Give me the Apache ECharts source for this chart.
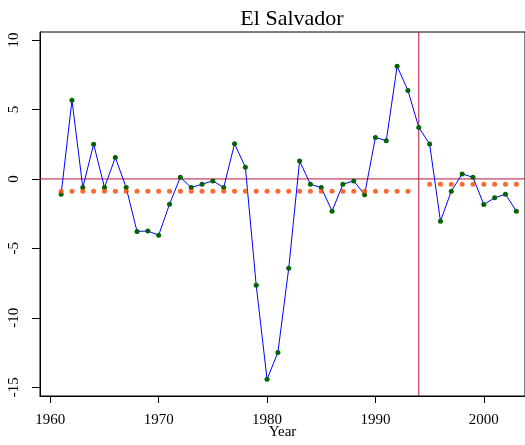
<!DOCTYPE html>
<html>
<head>
<meta charset="utf-8">
<script src="https://cdn.jsdelivr.net/npm/echarts@6/dist/echarts.min.js"></script>
<style>
  html, body { margin: 0; padding: 0; background: #fff; }
  #chart { width: 525px; height: 445px; }
</style>
</head>
<body>
<div id="chart"></div>
<script>
// 数据：年份 + 增长率（读自参考图）
const years = [1961, 1962, 1963, 1964, 1965, 1966, 1967, 1968, 1969, 1970,
  1971, 1972, 1973, 1974, 1975, 1976, 1977, 1978, 1979, 1980,
  1981, 1982, 1983, 1984, 1985, 1986, 1987, 1988, 1989, 1990,
  1991, 1992, 1993, 1994, 1995, 1996, 1997, 1998, 1999, 2000,
  2001, 2002, 2003];
const growth = [-1.1, 5.67, -0.62, 2.5, -0.62, 1.55, -0.62, -3.78, -3.75, -4.05,
  -1.82, 0.12, -0.62, -0.38, -0.14, -0.62, 2.53, 0.84, -7.66, -14.43,
  -12.49, -6.44, 1.29, -0.38, -0.62, -2.32, -0.38, -0.14, -1.13, 2.99,
  2.75, 8.11, 6.37, 3.71, 2.51, -3.04, -0.88, 0.36, 0.12, -1.84,
  -1.36, -1.1, -2.32];

// 断点与前后均值
const breakYear = 1994;
const meanBefore = -0.88;
const meanAfter = -0.38;

const xTicks = [1960, 1970, 1980, 1990, 2000];
const yTicks = [-15, -10, -5, 0, 5, 10];

// 坐标轴范围（与参考图的边框对齐）
const xMin = 1959.05, xMax = 2003.8;
const yMin = -15.63, yMax = 10.58;

const FONT = 'Liberation Serif';
const RED = '#b8143c';

const line = years.map((y, i) => [y, growth[i]]);
const before = years.filter(y => y < breakYear).map(y => [y, meanBefore]);
const after = years.filter(y => y > breakYear).map(y => [y, meanAfter]);

// 参考线：零线 + 断点竖线
const refLine = (data) => ({
  type: 'line',
  data,
  symbol: 'none',
  silent: true,
  lineStyle: { color: RED, width: 1 },
  z: 2
});

const chart = echarts.init(document.getElementById('chart'), null, { renderer: 'canvas' });
chart.setOption({
  animation: false,
  title: {
    text: 'El Salvador',
    left: 287,
    textAlign: 'center',
    top: 3,
    textStyle: { fontFamily: FONT, fontSize: 22, fontWeight: 'normal', color: '#000' }
  },
  grid: {
    left: 40, right: 0, top: 32, bottom: 49,
    outerBoundsMode: 'none',
    containLabel: false,
    show: true, borderColor: '#000', borderWidth: 1
  },
  xAxis: {
    type: 'value',
    min: xMin, max: xMax,
    name: 'Year',
    nameLocation: 'middle',
    nameGap: 29,
    nameMoveOverlap: false,
    nameTextStyle: { fontFamily: FONT, fontSize: 15, color: '#000' },
    splitLine: { show: false },
    axisLine: { show: true, onZero: false, lineStyle: { color: '#000' } },
    axisTick: { show: true, length: 7, customValues: xTicks, lineStyle: { color: '#000' } },
    axisLabel: {
      customValues: xTicks, margin: 17,
      formatter: v => String(v),
      fontFamily: FONT, fontSize: 15, color: '#000'
    }
  },
  yAxis: {
    type: 'value',
    min: yMin, max: yMax,
    splitLine: { show: false },
    axisLine: { show: true, onZero: false, lineStyle: { color: '#000' } },
    axisTick: { show: true, length: 8, customValues: yTicks, lineStyle: { color: '#000' } },
    axisLabel: {
      customValues: yTicks, rotate: 90, margin: 18,
      fontFamily: FONT, fontSize: 15, color: '#000'
    }
  },
  series: [
    refLine([[xMin, 0], [xMax, 0]]),
    refLine([[breakYear, yMin], [breakYear, yMax]]),
    {
      type: 'line',
      data: line,
      symbol: 'circle',
      symbolSize: 5,
      lineStyle: { color: '#0000ff', width: 1 },
      itemStyle: { color: '#006400' },
      z: 3
    },
    {
      type: 'scatter',
      data: before,
      symbolSize: 5,
      itemStyle: { color: '#ff4500' },
      z: 4
    },
    {
      type: 'scatter',
      data: after,
      symbolSize: 5,
      itemStyle: { color: '#ff4500' },
      z: 4
    }
  ]
});
</script>
</body>
</html>
